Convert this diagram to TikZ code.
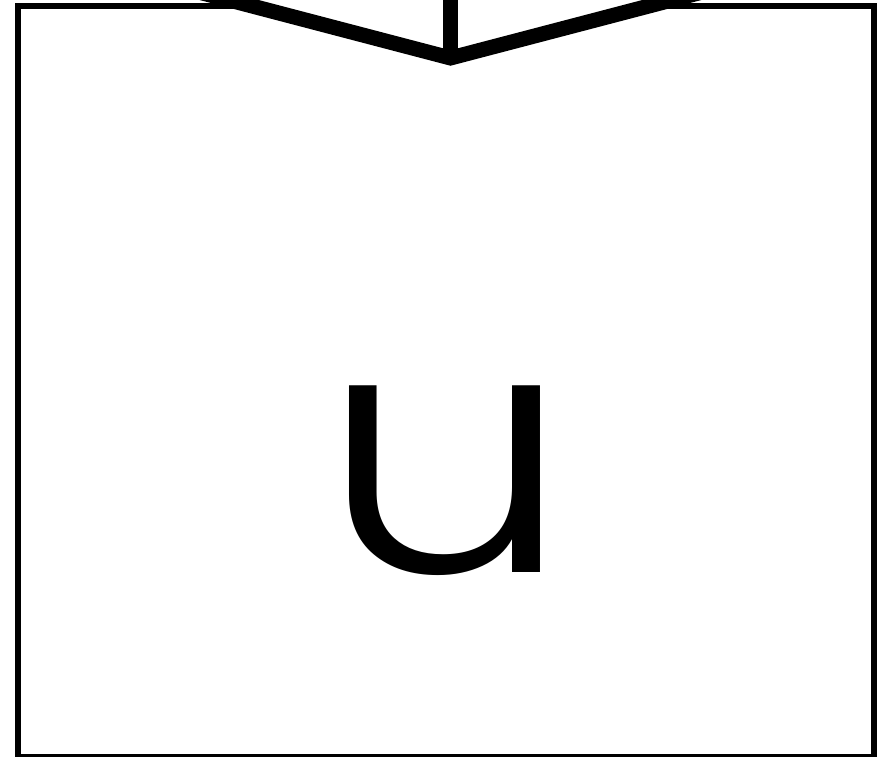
\documentclass[tikz,border=0pt]{standalone}
\usepackage{fontspec}
\newfontfamily\glyphfont{Poppins Light}
\usetikzlibrary{calc}

\begin{document}
\begin{tikzpicture}[
    x=1pt, y=-1pt,
    box/.style={draw, line width=6pt, minimum width=856pt, minimum height=751pt, inner sep=0pt},
    glyph/.style={inner sep=0pt, font=\glyphfont\fontsize{360}{360}\selectfont},
    head/.style={draw, fill=white, line width=15pt},
    shaft/.style={draw, line width=15pt}
  ]
    \useasboundingbox (0,0) rectangle (879,757);
    \clip (0,0) rectangle (879,757);
    \node[box] (frame) at (446,381.5) {};
    \node[glyph] (u) at (445.5,480.5) {\scalebox{1.11}[0.95]{u}};
    \coordinate (src) at (450.5,-80);
    \coordinate (tip) at ($(frame.north)+(4.5,55)$);
    \filldraw[head] ($(tip)+(-300,-78.6)$) -- (tip) -- ($(tip)+(300,-78.6)$) -- cycle;
    \draw[shaft] (src) -- (tip);
\end{tikzpicture}
\end{document}
